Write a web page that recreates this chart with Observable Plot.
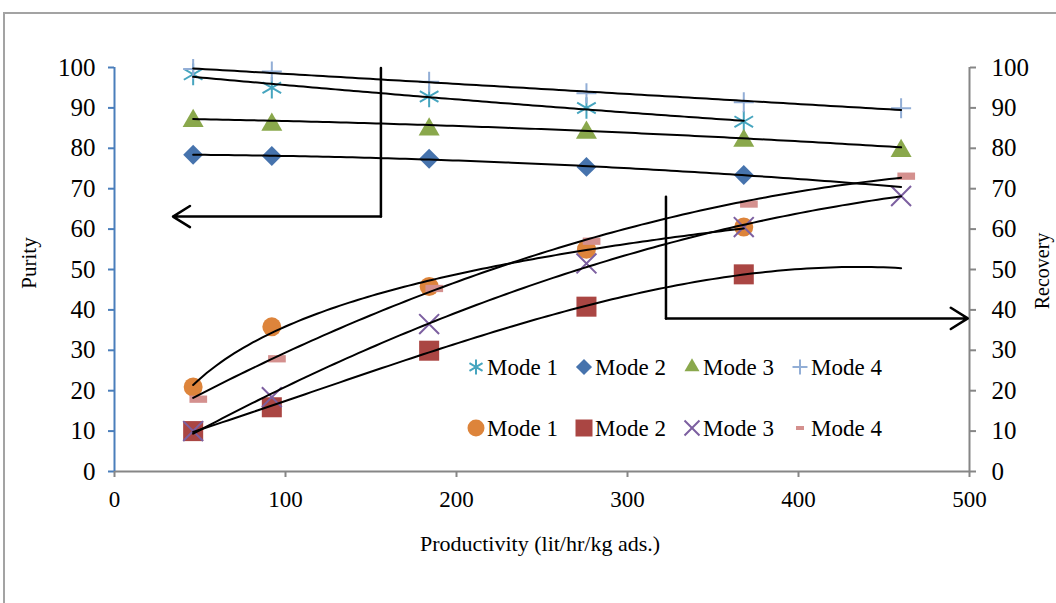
<!DOCTYPE html>
<html>
<head>
<meta charset="utf-8">
<script src="https://cdn.jsdelivr.net/npm/d3@7"></script>
<script src="https://cdn.jsdelivr.net/npm/@observablehq/plot@0.6"></script>
<style>
  body { margin: 0; background: #fff; }
  #wrap { position: relative; width: 1056px; height: 603px; overflow: hidden; background: #fff;
          font-family: "Liberation Serif", "Times New Roman", serif; }
  #frame { position: absolute; left: 3px; top: 12px; width: 1200px; height: 800px;
           border-left: 2px solid #a3a3a3; border-top: 2px solid #a3a3a3; }
  #chart { position: absolute; left: 0; top: 0; }
  #overlay { position: absolute; left: 0; top: 0; pointer-events: none; }
</style>
</head>
<body>
<div id="wrap">
  <div id="frame"></div>
  <div id="chart"></div>
  <svg id="overlay" width="1056" height="603"></svg>
</div>
<script>
// ---------------- data ----------------
const productivity = [46, 92, 184, 276, 368, 460];
const productivityRecMode4 = [49, 95, 187, 279, 371, 463];

const purityMode1 = [98.3, 95.0, 92.8, 90.0, 86.6, null];
const purityMode2 = [78.4, 78.1, 77.4, 75.4, 73.4, null];
const purityMode3 = [87.5, 86.6, 85.4, 84.6, 82.6, 80.1];
const purityMode4 = [99.6, 99.0, 96.5, 93.6, 91.4, 89.9];

const recoveryMode1 = [20.9, 35.8, 45.8, 55.0, 60.5, null];
const recoveryMode2 = [10.0, 15.9, 29.9, 40.8, 48.8, null];
const recoveryMode3 = [10.0, 18.4, 36.5, 51.5, 60.5, 68.2];
const recoveryMode4 = [17.9, 27.9, 45.3, 57.0, 66.2, 73.1];

const modeLabels = ["Mode 1", "Mode 2", "Mode 3", "Mode 4"];
const yTicks = [0, 10, 20, 30, 40, 50, 60, 70, 80, 90, 100];
const xTicks = [0, 100, 200, 300, 400, 500];

const xTitle = "Productivity (lit/hr/kg ads.)";
const yTitleLeft = "Purity";
const yTitleRight = "Recovery";

// annotation arrows (data units)
const purityArrowX = [155.8, 155.8, 34.2];
const purityArrowY = [99.9, 63.1, 63.1];
const recoveryArrowX = [322.5, 322.5, 499];
const recoveryArrowY = [68.0, 37.9, 37.9];

// ---------------- styling ----------------
const dashSymbol = {
  draw(ctx, size) {
    const r = Math.sqrt(size / Math.PI);
    ctx.rect(-0.85 * r, -0.35 * r, 1.7 * r, 0.7 * r);
  }
};

const purityStyle = [
  {symbol: "asterisk", d3sym: d3.symbolAsterisk, color: "#46a5bf", r: 10.2, stroke: true, fit: "poly2", end: 368, legendSize: 160},
  {symbol: "diamond2", d3sym: d3.symbolDiamond2, color: "#4673ad", r: 9, stroke: false, fit: "poly2", end: 460, legendSize: 165},
  {symbol: "triangle", d3sym: d3.symbolTriangle, color: "#8aa84c", r: 7.8, stroke: false, fit: "poly2", end: 460, legendSize: 98, dy: 3},
  {symbol: "plus", d3sym: d3.symbolPlus, color: "#92aed6", r: 6.5, stroke: true, fit: "linear", end: 460, legendSize: 75}
];
const recoveryStyle = [
  {symbol: "circle", d3sym: d3.symbolCircle, color: "#dd843b", r: 9.5, stroke: false, fit: "log", end: 368, legendSize: 227},
  {symbol: "square", d3sym: d3.symbolSquare, color: "#aa4643", r: 11.3, stroke: false, fit: "poly3", end: 460, legendSize: 289},
  {symbol: "times", d3sym: d3.symbolTimes, color: "#7c5fa0", r: 9.1, stroke: true, fit: "poly2", end: 460, legendSize: 148},
  {symbol: dashSymbol, d3sym: null, color: "#d4908e", r: 10.4, stroke: false, fit: "poly2", end: 460, legendSize: 0}
];

// ---------------- helpers ----------------
function rows(xs, ys) {
  return xs.map((x, i) => ({x, y: ys[i]})).filter(d => d.y != null);
}

// least-squares trend line computed from a series' own points
function trend(xs, ys, model, end) {
  const pts = rows(xs, ys).map(d => [d.x / 100, d.y]);
  const basis = {
    linear: t => [1, t],
    poly2: t => [1, t, t * t],
    poly3: t => [1, t, t * t, t * t * t],
    log: t => [1, Math.log(t)]
  }[model];
  const k = basis(1).length;
  const A = Array.from({length: k}, () => new Array(k + 1).fill(0));
  for (const [t, y] of pts) {
    const f = basis(t);
    for (let i = 0; i < k; i++) {
      for (let j = 0; j < k; j++) A[i][j] += f[i] * f[j];
      A[i][k] += f[i] * y;
    }
  }
  for (let c = 0; c < k; c++) {
    let p = c;
    for (let r = c + 1; r < k; r++) if (Math.abs(A[r][c]) > Math.abs(A[p][c])) p = r;
    [A[c], A[p]] = [A[p], A[c]];
    for (let r = 0; r < k; r++) {
      if (r === c) continue;
      const m = A[r][c] / A[c][c];
      for (let j = c; j <= k; j++) A[r][j] -= m * A[c][j];
    }
  }
  const coef = A.map((row, i) => row[k] / row[i]);
  const f = t => basis(t).reduce((s, v, i) => s + v * coef[i], 0);
  const start = pts[0][0] * 100;
  const n = 120;
  return d3.range(n + 1).map(i => {
    const x = start + (end - start) * i / n;
    return {x, y: f(x / 100)};
  });
}

const purityData = [purityMode1, purityMode2, purityMode3, purityMode4];
const recoveryData = [recoveryMode1, recoveryMode2, recoveryMode3, recoveryMode4];
const recoveryX = [productivity, productivity, productivity, productivityRecMode4];

const dotMarks = [];
const trendMarks = [];
purityData.forEach((ys, i) => {
  const st = purityStyle[i];
  dotMarks.push(Plot.dot(rows(productivity, ys), {
    x: "x", y: "y", symbol: st.symbol, r: st.r,
    ...(st.stroke ? {stroke: st.color, fill: "none", strokeWidth: 2} : {fill: st.color, stroke: "none"}),
    ...(st.dy ? {dy: st.dy} : {})
  }));
  trendMarks.push(Plot.line(trend(productivity, ys, st.fit, st.end), {x: "x", y: "y", stroke: "black", strokeWidth: 2}));
});
recoveryData.forEach((ys, i) => {
  const st = recoveryStyle[i];
  const xs = recoveryX[i];
  dotMarks.push(Plot.dot(rows(xs, ys), {
    x: "x", y: "y", symbol: st.symbol, r: st.r,
    ...(st.stroke ? {stroke: st.color, fill: "none", strokeWidth: 2} : {fill: st.color, stroke: "none"})
  }));
  trendMarks.push(Plot.line(trend(productivity, ys, st.fit, st.end), {x: "x", y: "y", stroke: "black", strokeWidth: 2}));
});

function arrowMarks(ax, ay) {
  return [
    Plot.line([{x: ax[0], y: ay[0]}, {x: ax[1], y: ay[1]}], {x: "x", y: "y", stroke: "black", strokeWidth: 2.5}),
    Plot.arrow([{x1: ax[1], y1: ay[1], x2: ax[2], y2: ay[2]}], {
      x1: "x1", y1: "y1", x2: "x2", y2: "y2", stroke: "black", strokeWidth: 2.5,
      headLength: 12, headAngle: 64, insetStart: 0, insetEnd: 0
    })
  ];
}

const chart = Plot.plot({
  width: 1056,
  height: 603,
  marginLeft: 114,
  marginRight: 87,
  marginTop: 67,
  marginBottom: 132,
  x: {domain: [0, 500]},
  y: {domain: [0, 100]},
  style: {fontFamily: "'Liberation Serif', 'Times New Roman', serif", fontSize: "25px", color: "black", background: "transparent"},
  marks: [
    Plot.axisY({anchor: "left", ticks: yTicks, tickSize: 6, tickPadding: 13, stroke: "#4a7ebb", strokeWidth: 2, fontSize: 25, label: null, tickFormat: d => String(d)}),
    Plot.axisY({anchor: "right", ticks: yTicks, tickSize: 6, tickPadding: 16, stroke: "#868686", strokeWidth: 2, fontSize: 25, label: null, tickFormat: d => String(d)}),
    Plot.axisX({anchor: "bottom", ticks: xTicks, tickSize: 6, tickPadding: 13, stroke: "#868686", strokeWidth: 2, fontSize: 23, label: null, tickFormat: d => String(d)}),
    Plot.ruleY([0], {stroke: "#868686", strokeWidth: 2}),
    Plot.ruleX([500], {stroke: "#868686", strokeWidth: 2}),
    Plot.ruleX([0], {stroke: "#4a7ebb", strokeWidth: 2}),
    ...dotMarks,
    ...trendMarks,
    ...arrowMarks(purityArrowX, purityArrowY),
    ...arrowMarks(recoveryArrowX, recoveryArrowY)
  ]
});
document.getElementById("chart").appendChild(chart);

// ---------------- titles & legend overlay ----------------
const ov = d3.select("#overlay");
const fontFam = "'Liberation Serif', 'Times New Roman', serif";

ov.append("text").attr("transform", "translate(36,263) rotate(-90)")
  .attr("text-anchor", "middle").attr("font-family", fontFam).attr("font-size", 21).text(yTitleLeft);
ov.append("text").attr("transform", "translate(1049,271) rotate(-90)")
  .attr("text-anchor", "middle").attr("font-family", fontFam).attr("font-size", 20).text(yTitleRight);
ov.append("text").attr("x", 540).attr("y", 551)
  .attr("text-anchor", "middle").attr("font-family", fontFam).attr("font-size", 22).text(xTitle);

const legendRows = [
  {y: 367, styles: purityStyle},
  {y: 428, styles: recoveryStyle}
];
legendRows.forEach(row => {
  row.styles.forEach((st, i) => {
    const cx = 476 + i * 108;
    const g = ov.append("g").attr("transform", `translate(${cx},${row.y})`);
    if (st.d3sym) {
      const p = g.append("path").attr("d", d3.symbol(st.d3sym, st.legendSize)());
      if (st.stroke) p.attr("fill", "none").attr("stroke", st.color).attr("stroke-width", 2);
      else p.attr("fill", st.color);
    } else {
      g.append("rect").attr("x", -4).attr("y", -2).attr("width", 8).attr("height", 4).attr("fill", st.color);
    }
    ov.append("text").attr("x", cx + 11).attr("y", row.y + 8)
      .attr("font-family", fontFam).attr("font-size", 23).text(modeLabels[i]);
  });
});
</script>
</body>
</html>
